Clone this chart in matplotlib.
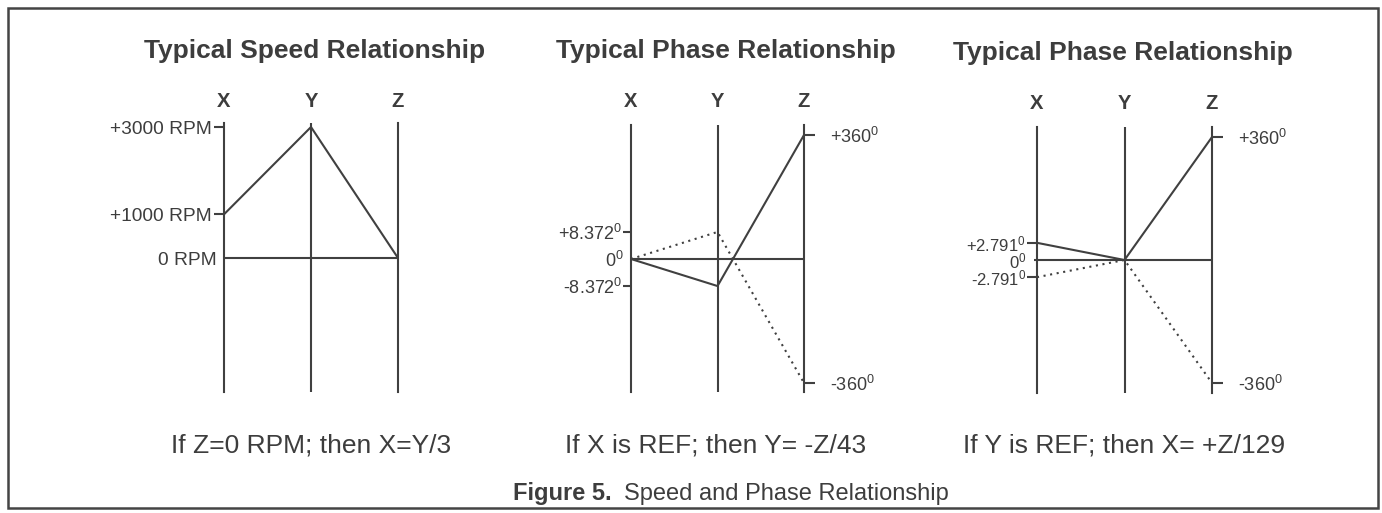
import numpy as np
import matplotlib
matplotlib.use("Agg")
import matplotlib.pyplot as plt
from matplotlib.patches import Rectangle
from matplotlib.ticker import FixedLocator, FixedFormatter

W, H = 1382, 513
plt.rcParams['font.family'] = ['Liberation Sans', 'DejaVu Sans']
plt.rcParams['mathtext.fontset'] = 'custom'
plt.rcParams['mathtext.rm'] = 'Liberation Sans'
plt.rcParams['mathtext.it'] = 'Liberation Sans:italic'
plt.rcParams['mathtext.bf'] = 'Liberation Sans:bold'
plt.rcParams['mathtext.default'] = 'rm'

# ---------------- data ----------------
axis_names = ["X", "Y", "Z"]

speed_values = [1000, 3000, 0]
speed_ticks = [3000, 1000]
speed_tick_labels = ["+3000 RPM", "+1000 RPM"]
speed_zero_label = "0 RPM"

phase_a_solid = [0, -8.372, 360]
phase_a_dotted = [0, 8.372, -360]
phase_a_left_ticks = [8.372, -8.372]
phase_a_left_labels = ["+8.372$^{0}$", "-8.372$^{0}$"]

phase_b_solid = [2.791, 0, 360]
phase_b_dotted = [-2.791, 0, -360]
phase_b_left_ticks = [2.791, -2.791]
phase_b_left_labels = ["+2.791$^{0}$", "-2.791$^{0}$"]

zero_deg_label = "0$^{0}$"
z_ticks = [360, -360]
z_tick_labels = ["+360$^{0}$", "-360$^{0}$"]

titles = ["Typical Speed Relationship", "Typical Phase Relationship",
          "Typical Phase Relationship"]
captions = ["If Z=0 RPM; then X=Y/3", "If X is REF; then Y= -Z/43",
            "If Y is REF; then X= +Z/129"]
fig_label_bold = "Figure 5."
fig_label_text = "Speed and Phase Relationship"

# ---------------- style ----------------
INK = '#3d3d3d'
LINE = '#404040'
LW = 1.5
DOT = (0, (1.0, 2.2))
P = 0.405
TICK_FS = 13


def fwd(v):
    v = np.asarray(v, dtype=float)
    return np.sign(v) * np.abs(v) ** P


def inv(v):
    v = np.asarray(v, dtype=float)
    return np.sign(v) * np.abs(v) ** (1.0 / P)


fig = plt.figure(figsize=(W / 100, H / 100), dpi=100)
fig.patch.set_facecolor('white')


def make_axes(xl, xr, top, bottom):
    ax = fig.add_axes([xl / W, 1 - bottom / H, (xr - xl) / W, (bottom - top) / H])
    ax.set_facecolor('none')
    for s in ('top', 'bottom'):
        ax.spines[s].set_visible(False)
    for s in ('left', 'right'):
        ax.spines[s].set_color(LINE)
        ax.spines[s].set_linewidth(LW)
    return ax


def finish_x(ax, pad):
    ax.set_xlim(0, 2)
    ax.xaxis.set_ticks_position('top')
    ax.tick_params(axis='x', length=0, pad=pad, labeltop=True, labelbottom=False,
                   labelsize=14.5, labelcolor=INK)
    for t in ax.get_xticklabels():
        t.set_fontweight('bold')
    ax.axvline(1, color=LINE, lw=LW, zorder=1)
    ax.axhline(0, color=LINE, lw=LW, zorder=1)


def left_ticks(ax, ticks, labels, zero_label, length, pad, zero_pad, fs,
               zero_len=0):
    ax.yaxis.set_major_locator(FixedLocator(ticks))
    ax.yaxis.set_major_formatter(FixedFormatter(labels))
    ax.yaxis.set_minor_locator(FixedLocator([0]))
    ax.yaxis.set_minor_formatter(FixedFormatter([zero_label]))
    ax.tick_params(axis='y', which='major', length=length, width=LW, color=LINE,
                   pad=pad, labelsize=fs, labelcolor=INK, right=False)
    ax.tick_params(axis='y', which='minor', length=zero_len, width=LW, color=LINE,
                   pad=zero_pad, labelsize=fs, labelcolor=INK, right=False)


def right_ticks(ax, lims, ticks, labels):
    ax2 = ax.twinx()
    ax2.set_yscale('function', functions=(fwd, inv))
    ax2.set_ylim(*lims)
    for s in ax2.spines.values():
        s.set_visible(False)
    ax2.yaxis.set_major_locator(FixedLocator(ticks))
    ax2.yaxis.set_major_formatter(FixedFormatter(labels))
    ax2.yaxis.set_minor_locator(FixedLocator([]))
    ax2.tick_params(axis='y', which='major', length=8, width=LW, color=LINE,
                    pad=11, labelsize=TICK_FS, labelcolor=INK)
    return ax2


# ---- panel 1: speed ----
ax1 = make_axes(224, 398, 123, 392)
ax1.plot(axis_names, speed_values, color=LINE, lw=LW, zorder=3,
         solid_joinstyle='miter')
ax1.set_ylim(-3069, 3092)
finish_x(ax1, 8.5)
left_ticks(ax1, speed_ticks, speed_tick_labels, speed_zero_label, 7.5, 1.5, 5, 13.8)

# ---- panel 2: phase, X as reference ----
ax2 = make_axes(631, 804, 125, 392)
ax2.set_yscale('function', functions=(fwd, inv))
ax2.plot(axis_names, phase_a_solid, color=LINE, lw=LW, zorder=3)
ax2.plot(axis_names, phase_a_dotted, color=LINE, lw=LW, ls=DOT, zorder=3)
lims2 = (-428, 436)
ax2.set_ylim(*lims2)
finish_x(ax2, 10)
left_ticks(ax2, phase_a_left_ticks, phase_a_left_labels, zero_deg_label, 6, 0.5,
           5.5, TICK_FS)
right_ticks(ax2, lims2, z_ticks, z_tick_labels)

# ---- panel 3: phase, Y as reference ----
ax3 = make_axes(1037, 1212, 127, 393)
ax3.set_yscale('function', functions=(fwd, inv))
ax3.plot(axis_names, phase_b_solid, color=LINE, lw=LW, zorder=3)
ax3.plot(axis_names, phase_b_dotted, color=LINE, lw=LW, ls=DOT, zorder=3)
lims3 = (-437, 437)
ax3.set_ylim(*lims3)
finish_x(ax3, 10)
left_ticks(ax3, phase_b_left_ticks, phase_b_left_labels, zero_deg_label, 7, 1,
           5.5, 12, zero_len=2)
right_ticks(ax3, lims3, z_ticks, z_tick_labels)

# ---- titles & captions ----
title_pos = [(315, 58), (726, 58), (1123, 60)]
for (x, y), t in zip(title_pos, titles):
    fig.text(x / W, 1 - y / H, t, ha='center', va='baseline', fontsize=19,
             fontweight='bold', color=INK)

caption_pos = [(311, 453), (716, 453), (1124, 453)]
for (x, y), t in zip(caption_pos, captions):
    fig.text(x / W, 1 - y / H, t, ha='center', va='baseline', fontsize=19,
             color=INK)

# figure label: bold part then regular part
fig.canvas.draw()
renderer = fig.canvas.get_renderer()
tb = fig.text(513 / W, 1 - 500 / H, fig_label_bold, ha='left', va='baseline',
              fontsize=17, fontweight='bold', color=INK)
bb = tb.get_window_extent(renderer)
fig.text((bb.x1 + 12) / W, 1 - 500 / H, fig_label_text, ha='left', va='baseline',
         fontsize=17, color=INK)

# frame
fig.patches.append(Rectangle((7.5 / W, 1 - 508 / H), (1378 - 7.5) / W, (508 - 7.5) / H,
                             transform=fig.transFigure, fill=False,
                             edgecolor='#444444', lw=1.8))

fig.savefig('out.png', dpi=100, facecolor='white')
